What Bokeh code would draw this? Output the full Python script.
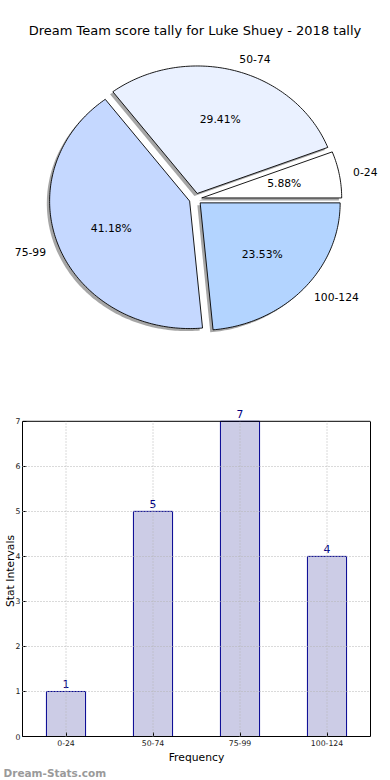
import numpy as np
from bokeh.plotting import figure
from bokeh.models import (Range1d, ColumnDataSource, FixedTicker, LinearAxis, Span, Title)
from bokeh.layouts import column
from bokeh.embed import file_html
from bokeh.resources import INLINE
from bokeh.core.properties import value

# ---------------- data ----------------
title_text = "Dream Team score tally for Luke Shuey - 2018 tally"
categories = ["0-24", "50-74", "75-99", "100-124"]
counts = [1, 5, 7, 4]
pie_colors = ["#ffffff", "#eaf1ff", "#c5d8ff", "#b3d4ff"]
y_ticks = [0, 1, 2, 3, 4, 5, 6, 7]
x_axis_label = "Frequency"
y_axis_label = "Stat Intervals"
watermark = "Dream-Stats.com"

FONT = value("DejaVu Sans")

# ---------------- layout constants (page pixels) ----------------
W = 390
PIE_H = 390
BAR_H = 390
cx, cy, rx, ry = 195.0, 198.5, 140.0, 127.5
explode = 0.045
shadow_dx, shadow_dy = -2.8, 2.5

total = float(sum(counts))
fracs = np.array(counts, dtype=float) / total
ends = np.cumsum(fracs) * 2 * np.pi
starts = ends - fracs * 2 * np.pi
mids = (starts + ends) / 2

xs, ys, sxs, sys_ = [], [], [], []
for s, e, m in zip(starts, ends, mids):
    ox = cx + explode * rx * np.cos(m)
    oy = cy - explode * ry * np.sin(m)
    n = max(int((e - s) / (2 * np.pi) * 360), 2) + 1
    t = np.linspace(s, e, n)
    px = np.concatenate([[ox], ox + rx * np.cos(t)])
    py = np.concatenate([[oy], oy - ry * np.sin(t)])
    xs.append(list(px)); ys.append(list(py))
    sxs.append(list(px + shadow_dx)); sys_.append(list(py + shadow_dy))

lab_x = cx + (explode + 1.1) * rx * np.cos(mids)
lab_y = cy - (explode + 1.1) * ry * np.sin(mids)
lab_align = ["left" if np.cos(m) > 0 else "right" for m in mids]
pct_x = cx + (explode + 0.6) * rx * np.cos(mids)
pct_y = cy - (explode + 0.6) * ry * np.sin(mids)
pct_text = ["%.2f%%" % (f * 100) for f in fracs]

p1 = figure(width=W, height=PIE_H, x_range=Range1d(0, W), y_range=Range1d(PIE_H, 0),
            output_backend="svg", toolbar_location=None, min_border=0,
            x_axis_type=None, y_axis_type=None, outline_line_color=None)
p1.frame_align = False
p1.grid.visible = False
p1.background_fill_color = "white"

p1.patches(sxs, sys_, fill_color="#4d4d4d", fill_alpha=0.5, line_color=None)
p1.patches(xs, ys, fill_color=pie_colors, line_color="black", line_width=0.9)

src_lab = ColumnDataSource(dict(x=lab_x, y=lab_y, t=categories, a=lab_align))
p1.text(x="x", y="y", text="t", text_align="a", source=src_lab, text_baseline="middle",
        text_font=FONT, text_font_size="10.75px", text_color="black")
src_pct = ColumnDataSource(dict(x=pct_x, y=pct_y, t=pct_text))
p1.text(x="x", y="y", text="t", source=src_pct, text_align="center", text_baseline="middle",
        text_font=FONT, text_font_size="10.75px", text_color="black")
p1.text(x=[194.5], y=[30], text=[title_text], text_align="center", text_baseline="middle",
        text_font=FONT, text_font_size="13px", text_color="black")

# ---------------- bar chart ----------------
xpos = list(range(len(categories)))
y_top = 7 + 16 / (319 / 7.0)   # headroom above the box for the value labels
p2 = figure(width=W, height=BAR_H, x_range=Range1d(-0.5, len(categories) - 0.5),
            y_range=Range1d(0, y_top), output_backend="svg", toolbar_location=None,
            min_border_left=19, min_border_right=20, min_border_top=15, min_border_bottom=40)
p2.frame_align = False
p2.background_fill_color = "white"
p2.outline_line_color = None
p2.xgrid.visible = False

p2.vbar(x=xpos, top=counts, width=0.45, fill_color="#ccccE6", line_color="#000090", line_width=1)
p2.text(x=xpos, y=counts, text=[str(c) for c in counts], text_align="center",
        text_baseline="bottom", y_offset=-3, text_font=FONT, text_font_size="10.75px",
        text_color="#000080")

# vertical dotted grid lines, only inside the box
vg = p2.segment(x0=xpos, y0=[0] * len(xpos), x1=xpos, y1=[7] * len(xpos),
                line_color="#b4b4b4", line_dash="1 2", line_width=1)
vg.level = "overlay"

p2.ygrid.ticker = FixedTicker(ticks=y_ticks[1:-1])
p2.ygrid.grid_line_color = "#b4b4b4"
p2.ygrid.grid_line_dash = "1 2"
p2.ygrid.grid_line_width = 1
p2.ygrid.level = "overlay"

p2.yaxis.ticker = FixedTicker(ticks=y_ticks)
p2.yaxis.bounds = (0, 7)
p2.xaxis.ticker = FixedTicker(ticks=xpos)
p2.xaxis.major_label_overrides = {i: c for i, c in zip(xpos, categories)}
for ax in (p2.xaxis, p2.yaxis):
    ax.major_tick_in = 4
    ax.major_tick_out = 0
    ax.minor_tick_line_color = None
    ax.axis_line_color = "black"
    ax.major_tick_line_color = "black"
    ax.major_label_text_font = "DejaVu Sans"
    ax.major_label_text_font_size = "7.75px"
    ax.major_label_text_color = "#222222"
    ax.major_label_standoff = 3
p2.yaxis.major_label_standoff = 2
for ax, lab in ((p2.xaxis, x_axis_label), (p2.yaxis, y_axis_label)):
    ax.axis_label = lab
    ax.axis_label_text_font = "DejaVu Sans"
    ax.axis_label_text_font_size = "10.75px"
    ax.axis_label_text_font_style = "normal"
    ax.axis_label_text_color = "black"
    ax.axis_label_text_line_height = 1.0
p2.xaxis.axis_label_standoff = 2
p2.yaxis.axis_label_standoff = -4

# right and top edges of the box
p2.add_layout(LinearAxis(ticker=FixedTicker(ticks=[]), bounds=(0, 7), axis_line_color="black",
                         major_tick_line_color=None, minor_tick_line_color=None), "right")
p2.add_layout(Span(location=7, dimension="width", line_color="black", line_width=1))

p2.add_layout(Title(text=watermark, align="left", offset=-19, standoff=0, vertical_align="top",
                    text_font="DejaVu Sans", text_font_style="bold", text_line_height=1.0,
                    text_font_size="10.5px", text_color="#9a9a9a"), "below")

layout = column(p1, p2, spacing=0)

open("out.html", "w").write(file_html(layout, INLINE))
